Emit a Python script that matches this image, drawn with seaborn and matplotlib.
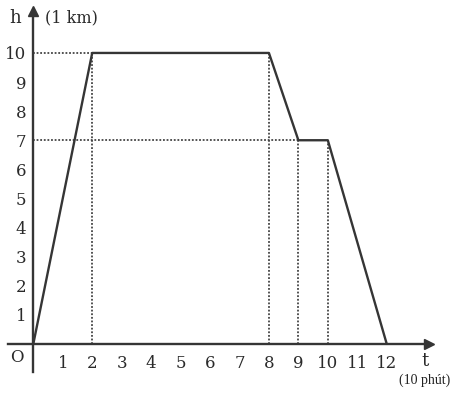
import matplotlib
matplotlib.use("Agg")
import matplotlib.pyplot as plt
import seaborn as sns
import pandas as pd

# data
t_vals = [0, 2, 8, 9, 10, 12]
h_vals = [0, 10, 10, 7, 7, 0]
x_ticks = list(range(1, 13))
y_ticks = list(range(1, 11))

sns.set_style("white")
plt.rcParams['font.family'] = ['DejaVu Serif']

fig = plt.figure(figsize=(4.53, 3.96), dpi=100)
ax = fig.add_axes([0, 0, 1, 1])
ax.set_xlim(-1.131, 14.25)
ax.set_ylim(-1.79, 11.82)

col = '#353535'
df = pd.DataFrame({'t': t_vals, 'h': h_vals})

# dotted guide lines
dot = dict(color='#444444', lw=1.3, ls=(0, (1, 1)))
ax.plot([0, 2], [10, 10], **dot)
ax.plot([0, 9], [7, 7], **dot)
for tv, hv in zip(t_vals[1:5], h_vals[1:5]):
    ax.plot([tv, tv], [0, hv], **dot)

sns.lineplot(data=df, x='t', y='h', ax=ax, color=col, lw=1.7, sort=False)

# axes through origin
for s in ['top', 'right']:
    ax.spines[s].set_visible(False)
ax.spines['left'].set_position(('data', 0))
ax.spines['bottom'].set_position(('data', 0))
ax.spines['left'].set_bounds(-0.96, 11.3)
ax.spines['bottom'].set_bounds(-0.86, 13.3)
for s in ['left', 'bottom']:
    ax.spines[s].set_color(col)
    ax.spines[s].set_linewidth(1.7)
ax.plot([0], [11.45], marker='^', color=col, ms=7, clip_on=False)
ax.plot([13.45], [0], marker='>', color=col, ms=7, clip_on=False)

ax.set_xticks(x_ticks)
ax.set_yticks(y_ticks)
ax.set_xticklabels([str(v) for v in x_ticks])
ax.set_yticklabels([str(v) for v in y_ticks])
ax.tick_params(axis='both', direction='inout', length=6, width=1.2, color=col,
               labelsize=12, labelcolor='#2a2a2a')
ax.tick_params(axis='x', pad=5)
ax.tick_params(axis='y', pad=2)
ax.set_xlabel('')
ax.set_ylabel('')

ax.text(-0.55, -0.45, 'O', fontsize=12, ha='center', va='center', color='#2a2a2a')
ax.text(-0.6, 11.2, 'h', fontsize=13, ha='center', va='center', color='#2a2a2a')
ax.text(0.4, 11.2, '(1 km)', fontsize=11.5, ha='left', va='center', color='#2a2a2a')
ax.text(13.3, -0.6, 't', fontsize=13, ha='center', va='center', color='#2a2a2a')
ax.text(14.15, -1.25, '(10 phút)', fontsize=10, ha='right', va='center',
        color='#222222', family=['Liberation Serif'])

fig.savefig('out.png', dpi=100)
